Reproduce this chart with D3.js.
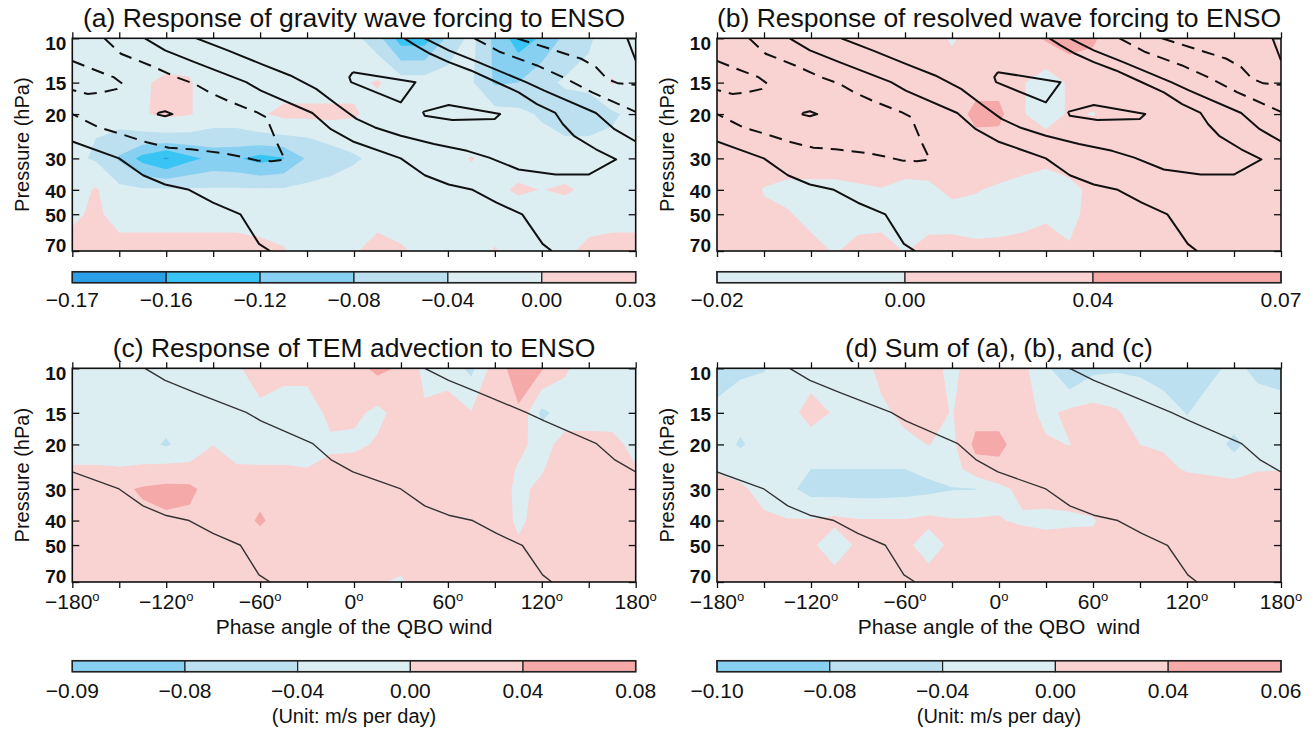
<!DOCTYPE html>
<html>
<head>
<meta charset="utf-8">
<script src="https://cdn.jsdelivr.net/npm/d3@7"></script>
<style>
  body { margin: 0; background: #fff; }
  svg text { font-family: "Liberation Sans", Arimo, Arial, Helvetica, sans-serif; fill: #111; }
</style>
</head>
<body>
<svg id="fig" width="1315" height="731"></svg>
<script>
// ---- grid coordinates -------------------------------------------------------
const phases = [-180, -165, -150, -135, -120, -105, -90, -75, -60, -45, -30, -15, 0,
                15, 30, 45, 60, 75, 90, 105, 120, 135, 150, 165, 180];
const levels = [10, 15, 20, 25, 30, 40, 50, 70];           // hPa

const xTicks = [-180, -150, -120, -90, -60, -30, 0, 30, 60, 90, 120, 150, 180];
const xLabelTicks = [-180, -120, -60, 0, 60, 120, 180];
const yTicks = [10, 15, 20, 30, 40, 50, 70];

// ---- (a) gravity wave forcing response (m/s per day), rows = levels ----------
const gwdResponse = [
  [-0.02,-0.02,-0.02,-0.02,-0.02,-0.02,-0.02,-0.02,-0.02,-0.02,-0.02,-0.02,-0.028,-0.065,-0.14,-0.14,-0.072,-0.028,-0.09,-0.14,-0.115,-0.07,-0.045,-0.02,-0.02],
  [-0.02,-0.02,-0.02,-0.003,0.005,0.003,-0.02,-0.02,-0.02,-0.02,-0.02,-0.02,-0.01,0.004,-0.02,-0.02,-0.02,-0.035,-0.085,-0.08,-0.05,-0.035,-0.03,0.003,-0.02],
  [-0.02,-0.02,-0.02,-0.003,0.008,0.003,-0.02,-0.02,-0.005,0.01,0.01,0.01,0.005,-0.015,-0.02,-0.02,-0.02,-0.02,-0.025,-0.03,-0.045,-0.06,-0.06,-0.045,-0.03],
  [-0.025,-0.04,-0.052,-0.055,-0.055,-0.055,-0.055,-0.055,-0.052,-0.048,-0.042,-0.03,-0.025,-0.02,-0.02,-0.02,-0.02,-0.02,-0.02,-0.02,-0.03,-0.038,-0.038,-0.035,-0.025],
  [-0.03,-0.045,-0.085,-0.135,-0.165,-0.13,-0.11,-0.115,-0.135,-0.122,-0.075,-0.06,-0.045,-0.03,-0.02,-0.02,-0.02,0.003,-0.02,-0.02,-0.02,-0.025,-0.025,-0.02,-0.02],
  [-0.02,0.004,-0.03,-0.035,-0.035,-0.035,-0.035,-0.035,-0.035,-0.035,-0.03,-0.025,-0.02,-0.02,-0.02,-0.02,-0.02,-0.02,-0.01,0.006,-0.001,0.006,-0.01,-0.02,-0.02],
  [-0.01,0.01,-0.02,-0.02,-0.02,-0.02,-0.02,-0.02,-0.02,-0.02,-0.02,-0.02,-0.02,-0.02,-0.02,-0.02,-0.02,-0.02,-0.02,-0.02,-0.02,-0.02,-0.02,-0.02,-0.02],
  [0.02,0.02,0.02,0.02,0.02,0.02,0.02,0.02,0.012,0.003,-0.02,-0.02,-0.005,0.02,0.005,-0.01,-0.02,-0.02,0.003,-0.02,-0.02,-0.01,0.012,0.02,0.02]
];

// ---- (b) resolved wave forcing response -------------------------------------
const resolvedResponse = [
  [0.02,0.02,0.02,0.02,0.02,0.02,0.02,0.02,0.02,0.02,-0.005,0.02,0.02,0.02,0.045,0.06,0.045,0.02,0.02,0.02,0.02,0.02,0.02,0.02,-0.005],
  [0.02,0.02,0.02,0.02,0.02,0.02,0.02,0.02,0.02,0.02,0.02,0.026,0.026,0.003,-0.02,0.005,0.02,0.02,0.02,0.02,0.02,0.02,0.02,0.02,0.02],
  [0.02,0.02,0.02,0.02,0.02,0.02,0.02,0.02,0.02,0.02,0.02,0.05,0.05,0.003,-0.02,0.005,-0.002,0.02,0.02,0.02,0.02,0.02,0.02,0.02,0.02],
  [0.02,0.02,0.02,0.02,0.02,0.02,0.02,0.02,0.02,0.02,0.02,0.032,0.03,0.02,0.012,0.02,0.02,0.02,0.02,0.02,0.02,0.02,0.02,0.02,0.02],
  [0.02,0.02,0.02,0.02,0.02,0.02,0.015,0.015,0.015,0.02,0.02,0.02,0.02,0.012,0.006,0.01,0.02,0.02,0.02,0.02,0.02,0.02,0.02,0.02,0.02],
  [0.02,0.02,-0.002,-0.01,-0.01,-0.01,-0.004,-0.001,-0.008,-0.008,0.008,0.002,-0.005,-0.01,-0.012,-0.006,0.005,0.02,0.02,0.02,0.02,0.02,0.02,0.02,0.02],
  [0.02,0.02,0.006,0.003,-0.01,-0.01,-0.01,-0.01,-0.01,-0.01,-0.012,-0.01,-0.01,-0.008,-0.004,-0.008,0.01,0.02,0.02,0.02,0.02,0.02,0.02,0.02,0.02],
  [0.02,0.02,0.02,0.02,0.01,-0.002,0.008,0.01,-0.001,0.008,0.01,0.005,0.006,0.008,0.012,0.003,0.02,0.02,0.02,0.02,0.02,0.02,0.02,0.02,0.02]
];

// ---- (c) TEM advection response ---------------------------------------------
const advectionResponse = [
  [-0.02,-0.02,-0.02,-0.02,-0.02,-0.02,-0.02,-0.006,0.02,0.02,0.02,0.02,0.025,0.05,0.035,-0.01,-0.02,-0.05,0.02,0.06,0.045,0.005,-0.02,-0.02,-0.02],
  [-0.02,-0.02,-0.02,-0.02,-0.02,-0.02,-0.02,-0.02,-0.01,-0.03,-0.03,0.015,0.01,-0.01,0.015,0.005,0.02,0.002,0.02,0.035,-0.05,-0.02,-0.02,-0.015,-0.01],
  [-0.02,-0.02,-0.02,-0.025,-0.045,-0.02,-0.001,-0.02,-0.02,-0.02,-0.02,-0.01,-0.01,0.005,0.02,0.02,0.02,0.02,0.02,0.01,-0.015,0.015,0.015,0.01,-0.01],
  [0.004,0.004,0.002,0.006,0.012,0.008,0.02,0.005,0.004,0.004,0.001,0.015,0.02,0.02,0.02,0.02,0.02,0.02,0.02,-0.003,-0.003,0.02,0.02,0.015,0.002],
  [0.02,0.02,0.032,0.045,0.05,0.05,0.02,0.02,0.025,0.02,0.02,0.02,0.02,0.02,0.02,0.02,0.02,0.02,0.02,-0.008,0.008,0.02,0.02,0.02,0.02],
  [0.02,0.02,0.02,0.03,0.035,0.03,0.02,0.02,0.046,0.02,0.02,0.02,0.02,0.02,0.02,0.02,0.02,0.02,0.02,-0.006,0.012,0.02,0.02,0.02,0.02],
  [0.02,0.02,0.02,0.02,0.02,0.02,0.02,0.02,0.02,0.02,0.02,0.02,0.02,0.02,0.02,0.02,0.02,0.02,0.02,0.004,0.02,0.02,0.02,0.02,0.02],
  [0.02,0.02,0.02,0.02,0.02,0.02,0.02,0.02,0.02,0.02,0.02,0.02,0.02,0.002,-0.004,0.02,0.02,0.02,0.02,0.02,0.02,0.02,0.02,0.02,0.02]
];

// ---- (d) sum of the three terms ---------------------------------------------
const totalResponse = [
  [-0.06,-0.045,-0.042,-0.02,-0.02,-0.02,-0.02,0.012,0.02,0.015,-0.01,0.02,0.02,0.01,-0.03,-0.085,-0.05,-0.045,-0.045,-0.06,-0.06,-0.05,-0.03,-0.05,-0.06],
  [-0.03,-0.025,-0.02,-0.015,0.016,-0.004,-0.02,-0.008,0.01,0.015,-0.002,0.026,0.026,0.015,-0.01,0.01,0.015,0.005,-0.02,-0.02,-0.042,-0.02,-0.02,-0.02,-0.02],
  [-0.02,-0.045,-0.02,-0.02,-0.02,-0.02,-0.02,-0.02,-0.01,0.001,-0.01,0.05,0.05,0.02,0.005,-0.001,0.015,0.01,0.0,-0.005,-0.02,-0.02,-0.05,-0.02,-0.02],
  [-0.003,-0.01,-0.02,-0.02,-0.04,-0.04,-0.04,-0.04,-0.04,-0.03,-0.02,0.025,0.03,0.02,0.02,0.02,0.02,0.02,0.02,0.01,-0.004,-0.01,-0.02,-0.003,-0.002],
  [0.01,0.005,-0.01,-0.03,-0.055,-0.058,-0.058,-0.058,-0.055,-0.05,-0.042,-0.041,-0.01,0.01,0.02,0.02,0.02,0.02,0.02,0.02,0.02,0.02,0.02,0.02,0.02],
  [0.02,0.02,0.005,0.002,0.003,0.01,0.003,0.003,0.003,0.01,0.003,0.004,0.002,-0.005,-0.012,-0.008,-0.003,0.02,0.02,0.02,0.02,0.02,0.02,0.02,0.02],
  [0.02,0.02,0.02,0.02,0.008,-0.025,0.008,0.02,0.01,-0.02,0.01,0.02,0.02,0.02,0.02,0.02,0.01,0.02,0.02,0.02,0.02,0.02,0.02,0.02,0.02],
  [0.02,0.02,0.02,0.02,0.02,0.02,0.02,0.02,0.02,0.02,0.02,0.02,0.02,0.02,0.02,0.02,0.02,0.02,0.02,0.02,0.02,0.02,0.02,0.02,0.02]
];

// ---- contour levels and colour-bar labels -----------------------------------
const levelsA = [-0.16, -0.12, -0.08, -0.04, 0.0];
const labelsA = ["−0.17", "−0.16", "−0.12", "−0.08", "−0.04", "0.00", "0.03"];
const levelsB = [0.0, 0.04];
const labelsB = ["−0.02", "0.00", "0.04", "0.07"];
const levelsC = [-0.08, -0.04, 0.0, 0.04];
const labelsC = ["−0.09", "−0.08", "−0.04", "0.00", "0.04", "0.08"];
const levelsD = [-0.08, -0.04, 0.0, 0.04];
const labelsD = ["−0.10", "−0.08", "−0.04", "0.00", "0.04", "0.06"];

// ---- composite QBO wind isolines: [phase (deg), pressure (hPa)] --------------
const zeroWindLower = [[-180,25.7],[-150.1,30.0],[-134.8,35.0],[-120.7,38.1],[-105.4,40.0],[-90.1,45.0],[-72.5,50.1],[-60.7,65.6],[-53.6,70]];
const zeroWindMiddle = [[-133.6,10],[-120.7,11.17],[-101.9,12.44],[-68.9,14.94],[-59.5,16.14],[-26.6,19.8],[-14.8,22.96],[-0.7,25.7],[29.9,30.0],[45.2,35.0],[60.5,38.1],[75.8,40.0],[91.1,45.0],[107.5,50.1],[120.5,65.6],[126.4,70]];
const zeroWindUpper = [[45.2,10],[60.5,11.17],[79.3,12.44],[109.9,14.94],[121.6,16.14],[154.6,19.8],[166.4,22.96],[180,25.7]];
const westerlyTongue = [[-100.7,10],[-80.7,11.17],[-59.5,12.63],[-40.7,14.05],[-24.2,15.89],[-10.1,18.5],[1.6,20.9],[13.4,22.6],[29.9,24.4],[51.1,26.3],[72.2,28.0],[86.4,29.8],[105.2,33.2],[128.7,34.8],[149.9,34.8],[167.5,30.3],[154.6,27.6],[140.5,24.4],[133.4,21.9],[128.7,19.8],[116.9,18.25],[105.2,16.39],[88.7,14.71],[74.6,13.42],[60.5,12.44],[48.7,11.52],[39.3,10.66],[32.2,10]];
const westerlyCell1 = [[-0.7,13.63],[39.3,14.94],[29.9,17.98],[-1.9,14.94],[-3.0,14.27],[-0.7,13.63]];
const westerlyCell2 = [[44,19.6],[60.5,18.4],[93.4,20.0],[89.9,20.9],[62.8,21.1],[45.2,20.3],[44,19.6]];
const westerlyCell3 = [[-125.4,19.8],[-120.7,19.5],[-116,20.0],[-120.7,20.4],[-125.4,20.1],[-125.4,19.8]];
const westerlyCorner = [[174.6,10],[180,12.25]];
const easterly1 = [[-159.5,10],[-148.9,11.52],[-130.1,12.82],[-113.6,14.27],[-101.9,15.17],[-92.5,16.39],[-80.7,17.7],[-61.9,19.7],[-56,20.6],[-48.9,26.3],[-44.2,30.3],[-52.5,30.8],[-61.9,30.6],[-73.6,29.4],[-85.4,28.5],[-104.2,27.6],[-118.4,27.2],[-132.5,25.9],[-148.9,24.0],[-163.1,22.6],[-180,20.0]];
const easterly2 = [[-180,12.3],[-167.8,13.2],[-153.6,14.27],[-147.8,15.17],[-151.3,15.89],[-160.7,16.39],[-170.1,16.64],[-180,16.04]];
const easterly3 = [[76.9,10],[93.4,11.34],[116.9,12.82],[133.4,14.27],[152.2,16.39],[180,19.6]];
const easterly4 = [[104,10],[121.6,10.83],[145.2,12.06],[154.6,13.02],[161.7,14.49],[168.7,15.1],[180,15.3]];

const solidWind = [zeroWindLower, zeroWindMiddle, zeroWindUpper, westerlyTongue,
                   westerlyCell1, westerlyCell2, westerlyCell3, westerlyCorner];
const dashedWind = [easterly1, easterly2, easterly3, easterly4];
const zeroWind = [zeroWindLower, zeroWindMiddle, zeroWindUpper];

// ---- palettes ---------------------------------------------------------------
const C = {
  deep: "#2c9fe9", cyan: "#3ac4f4", mid: "#87d0f2", pale: "#bce0ef",
  faint: "#ddeef3", pink: "#f9d2d2", rose: "#f5a9a9"
};

const panels = [
  { id: "a", title: "(a) Response of gravity wave forcing to ENSO", field: gwdResponse,
    thresholds: levelsA, labels: labelsA,
    colors: [C.deep, C.cyan, C.mid, C.pale, C.faint, C.pink],
    box: [72.3, 38.3, 635.7, 251], titleY: 27, cbY: 271.7, cbLabelY: 307,
    full: true, xLabels: false, unit: false },
  { id: "b", title: "(b) Response of resolved wave forcing to ENSO", field: resolvedResponse,
    thresholds: levelsB, labels: labelsB,
    colors: [C.faint, C.pink, C.rose],
    box: [717, 38.3, 1281, 251], titleY: 27, cbY: 271.7, cbLabelY: 307,
    full: true, xLabels: false, unit: false },
  { id: "c", title: "(c) Response of TEM advection to ENSO", field: advectionResponse,
    thresholds: levelsC, labels: labelsC,
    colors: [C.mid, C.pale, C.faint, C.pink, C.rose],
    box: [72.3, 368.3, 635.7, 582], titleY: 357, cbY: 660.7, cbLabelY: 698,
    full: false, xLabels: true, xTitle: "Phase angle of the QBO wind", unit: true },
  { id: "d", title: "(d) Sum of (a), (b), and (c)", field: totalResponse,
    thresholds: levelsD, labels: labelsD,
    colors: [C.mid, C.pale, C.faint, C.pink, C.rose],
    box: [717, 368.3, 1281, 582], titleY: 357, cbY: 660.7, cbLabelY: 698,
    full: false, xLabels: true, xTitle: "Phase angle of the QBO\u00a0 wind", unit: true }
];

const svg = d3.select("#fig");
const defs = svg.append("defs");

// maps a d3.contours grid coordinate (cell centres at i + 0.5) to pixels
function gridToPixel(coords, scale) {
  const px = coords.map(scale);
  return c => {
    const t = c - 0.5;
    const i = Math.max(0, Math.min(px.length - 2, Math.floor(t)));
    return px[i] + (t - i) * (px[i + 1] - px[i]);
  };
}

function fmtPhase(d) { return (d < 0 ? "−" : "") + Math.abs(d); }

function drawPanel(p) {
  const [x0, y0, x1, y1] = p.box;
  const x = d3.scaleLinear().domain([-180, 180]).range([x0, x1]);
  const y = d3.scaleLog().domain([10, 70]).range([y0, y1]);
  const g = svg.append("g").attr("class", "panel-" + p.id);

  defs.append("clipPath").attr("id", "clip-" + p.id)
    .append("rect").attr("x", x0).attr("y", y0).attr("width", x1 - x0).attr("height", y1 - y0);

  const body = g.append("g").attr("clip-path", `url(#clip-${p.id})`);
  body.append("rect").attr("x", x0).attr("y", y0).attr("width", x1 - x0).attr("height", y1 - y0)
    .attr("fill", p.colors[0]);

  // filled contours
  const gx = gridToPixel(phases, x), gy = gridToPixel(levels, y);
  const path = d3.geoPath(d3.geoTransform({
    point(px, py) { this.stream.point(gx(px), gy(py)); }
  }));
  const bands = d3.contours()
    .size([phases.length, levels.length])
    .thresholds(p.thresholds)(p.field.flat());
  body.selectAll("path.band").data(bands).join("path")
    .attr("class", "band")
    .attr("d", path)
    .attr("fill", (d, i) => p.colors[i + 1]);

  // QBO wind isolines
  const line = d3.line().x(d => x(d[0])).y(d => y(d[1]));
  if (p.full) {
    body.selectAll("path.solid").data(solidWind).join("path")
      .attr("class", "solid").attr("d", line)
      .attr("fill", "none").attr("stroke", "#111").attr("stroke-width", 2)
      .attr("stroke-linejoin", "round");
    body.selectAll("path.dashed").data(dashedWind).join("path")
      .attr("class", "dashed").attr("d", line)
      .attr("fill", "none").attr("stroke", "#111").attr("stroke-width", 2)
      .attr("stroke-dasharray", "13,8");
  } else {
    body.selectAll("path.solid").data(zeroWind).join("path")
      .attr("class", "solid").attr("d", line)
      .attr("fill", "none").attr("stroke", "#333").attr("stroke-width", 1.4)
      .attr("stroke-linejoin", "round");
  }

  // axes
  const axisStyle = sel => {
    sel.select(".domain").remove();
    sel.selectAll("line").attr("stroke", "#111").attr("stroke-width", 1.3);
    sel.selectAll("text").remove();
  };
  g.append("g").attr("transform", `translate(0,${y0})`)
    .call(d3.axisTop(x).tickValues(xTicks).tickSize(6)).call(axisStyle);
  g.append("g").attr("transform", `translate(0,${y1})`)
    .call(d3.axisBottom(x).tickValues(xTicks).tickSize(6)).call(axisStyle);
  g.append("g").attr("transform", `translate(${x0},0)`)
    .call(d3.axisLeft(y).tickValues(yTicks).tickSize(-7)).call(axisStyle);
  g.append("g").attr("transform", `translate(${x1},0)`)
    .call(d3.axisRight(y).tickValues(yTicks).tickSize(-7)).call(axisStyle);

  g.append("rect").attr("x", x0).attr("y", y0).attr("width", x1 - x0).attr("height", y1 - y0)
    .attr("fill", "none").attr("stroke", "#111").attr("stroke-width", 1.6);

  // pressure labels
  const yShift = v => (v === 10 ? 5 : v === 70 ? -6 : 1);
  g.selectAll("text.ylab").data(yTicks).join("text")
    .attr("class", "ylab")
    .attr("x", x0 - 6).attr("y", d => y(d) + yShift(d))
    .attr("dy", "0.36em")
    .attr("text-anchor", "end")
    .attr("font-size", 19).attr("font-weight", "bold")
    .text(d => d);

  g.append("text")
    .attr("transform", `translate(${x0 - 50},${(y0 + y1) / 2}) rotate(-90)`)
    .attr("text-anchor", "middle").attr("dy", "0.35em")
    .attr("font-size", 20)
    .text("Pressure (hPa)");

  // title
  g.append("text").attr("x", (x0 + x1) / 2).attr("y", p.titleY)
    .attr("text-anchor", "middle").attr("font-size", 26.5)
    .text(p.title);

  // phase labels
  if (p.xLabels) {
    const t = g.selectAll("text.xlab").data(xLabelTicks).join("text")
      .attr("class", "xlab")
      .attr("x", d => x(d)).attr("y", y1 + 27)
      .attr("text-anchor", "middle").attr("font-size", 21);
    t.append("tspan").text(d => fmtPhase(d));
    t.append("tspan").attr("dy", -8).attr("font-size", 13).text("o");
    g.append("text").attr("x", (x0 + x1) / 2).attr("y", y1 + 52)
      .attr("text-anchor", "middle").attr("font-size", 21)
      .style("white-space", "pre")
      .text(p.xTitle);
  }

  // colour bar
  const n = p.colors.length;
  const cb = d3.scaleLinear().domain([0, n]).range([x0, x1]);
  const cbH = 11;
  const cbG = g.append("g");
  cbG.selectAll("rect.seg").data(p.colors).join("rect")
    .attr("class", "seg")
    .attr("x", (d, i) => cb(i)).attr("y", p.cbY)
    .attr("width", (d, i) => cb(i + 1) - cb(i)).attr("height", cbH)
    .attr("fill", d => d).attr("stroke", "#222").attr("stroke-width", 1.2);
  cbG.append("rect").attr("x", x0).attr("y", p.cbY).attr("width", x1 - x0).attr("height", cbH)
    .attr("fill", "none").attr("stroke", "#222").attr("stroke-width", 1.5);
  cbG.selectAll("text.cbl").data(p.labels).join("text")
    .attr("class", "cbl")
    .attr("x", (d, i) => cb(i)).attr("y", p.cbLabelY)
    .attr("text-anchor", "middle").attr("font-size", 21)
    .text(d => d);
  if (p.unit) {
    cbG.append("text").attr("x", (x0 + x1) / 2).attr("y", p.cbLabelY + 25)
      .attr("text-anchor", "middle").attr("font-size", 20)
      .text("(Unit: m/s per day)");
  }
}

panels.forEach(drawPanel);
</script>
</body>
</html>
